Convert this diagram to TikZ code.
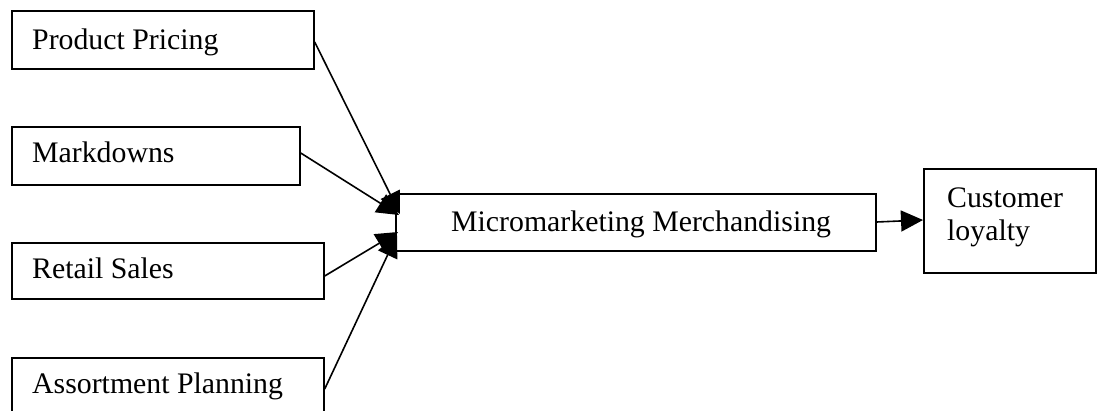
\documentclass[tikz,border=0pt]{standalone}
\usepackage{fontspec}
\setmainfont{Liberation Serif}
\usetikzlibrary{arrows.meta,calc}
\begin{document}
\begin{tikzpicture}[x=1pt,y=-1pt,
  box/.style={draw=black,line width=1.7pt,rectangle,inner sep=0pt,anchor=north west},
  lbl/.style={anchor=base west,inner sep=0pt,font=\fontsize{29.8}{33}\selectfont},
  conn/.style={line width=1.6pt,-{Triangle[length=22pt,width=21pt]}}]
\useasboundingbox (0,0) rectangle (1097,411);
\fill[white] (0,0) rectangle (1097,411);
% boxes
\node[box,minimum width=302pt,minimum height=58pt] (pp) at (11,10) {};
\node[box,minimum width=288pt,minimum height=58pt] (md) at (11,126) {};
\node[box,minimum width=312pt,minimum height=56pt] (rs) at (11,242) {};
\node[box,minimum width=312pt,minimum height=70pt] (ap) at (11,357) {};
\node[box,minimum width=480pt,minimum height=57pt] (mm) at (395,193) {};
\node[box,minimum width=172pt,minimum height=104pt] (cl) at (923,168) {};
% labels
\node[lbl] (tpp) at (32,50) {Product Pricing};
\node[lbl] (tmd) at (32,163) {Markdowns};
\node[lbl] (trs) at (32,279) {Retail Sales};
\node[lbl] (tap) at (32,393) {Assortment Planning};
\node[lbl] (tmm) at (451,232) {Micromarketing Merchandising};
\node[lbl] (tcl1) at (947,208) {Customer};
\node[lbl] (tcl2) at (947,241) {loyalty};
% targets
\coordinate (t1) at ($(mm.north west)+(5,21)$);
\coordinate (t2) at ($(mm.north west)+(4,22)$);
\coordinate (t3) at ($(mm.north west)+(3,39)$);
\coordinate (t4) at ($(mm.north west)+(2,42)$);
% connectors
\draw[conn] ($(pp.north east)+(0,32)$) -- (t1);
\draw[conn] ($(md.north east)+(0,27)$) -- (t2);
\draw[conn] ($(rs.north east)+(0,34)$) -- (t3);
\draw[conn] ($(ap.north east)+(0,32)$) -- (t4);
\draw[conn] ($(mm.north east)+(0,29)$) -- ($(cl.north west)+(0,52)$);
\end{tikzpicture}
\end{document}
